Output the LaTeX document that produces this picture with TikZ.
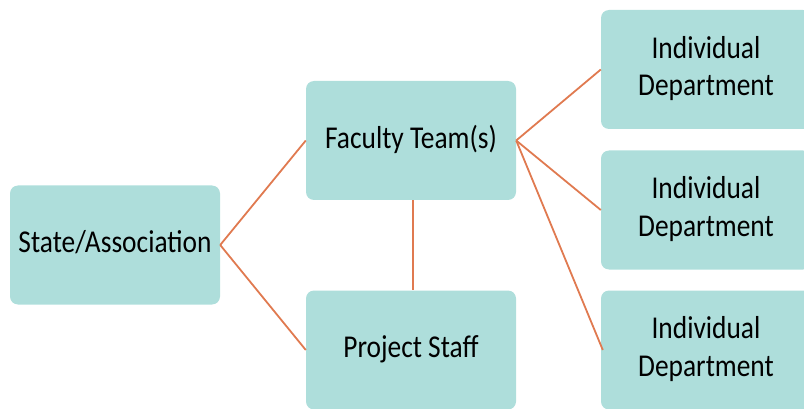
\documentclass[tikz,border=0pt]{standalone}
\usepackage{fontspec}
\setmainfont{Carlito}
\usepackage{graphicx}
\definecolor{boxfill}{HTML}{AEDEDB}
\definecolor{linkcol}{HTML}{E07A50}
\tikzset{
  orgbox/.style={rectangle, rounded corners=8pt, fill=boxfill, draw=none,
    minimum width=210pt, minimum height=119pt, inner sep=0pt,
    font=\fontsize{27.4}{32.5}\selectfont, text=black},
  link/.style={draw=linkcol, line width=1.8pt}
}
\newcommand{\boxtext}[1]{\scalebox{1}[1.16]{\begin{tabular}{@{}c@{}}#1\end{tabular}}}
\begin{document}
\begin{tikzpicture}[x=1pt,y=-1pt]
\useasboundingbox (0,0) rectangle (804,409);
\clip (0,0) rectangle (804,409);
\node[orgbox] (state) at (115,245) {\boxtext{State/Association}};
\node[orgbox] (fac) at (411,140.5) {\boxtext{Faculty Team(s)}};
\node[orgbox] (staff) at (411,350) {\boxtext{Project Staff}};
\node[orgbox] (d1) at (706,69.5) {\boxtext{Individual\\Department}};
\node[orgbox] (d2) at (706,210) {\boxtext{Individual\\Department}};
\node[orgbox] (d3) at (706,350) {\boxtext{Individual\\Department}};
\draw[link] (state.east) -- (fac.west);
\draw[link] (state.east) -- (staff.west);
\draw[link] (fac.east) -- (d1.west);
\draw[link] (fac.east) -- (d2.west);
\draw[link] (fac.east) -- ([xshift=2pt]d3.west);
\draw[link] ([xshift=2pt]fac.south) -- ([xshift=2pt]staff.north);
\end{tikzpicture}
\end{document}
